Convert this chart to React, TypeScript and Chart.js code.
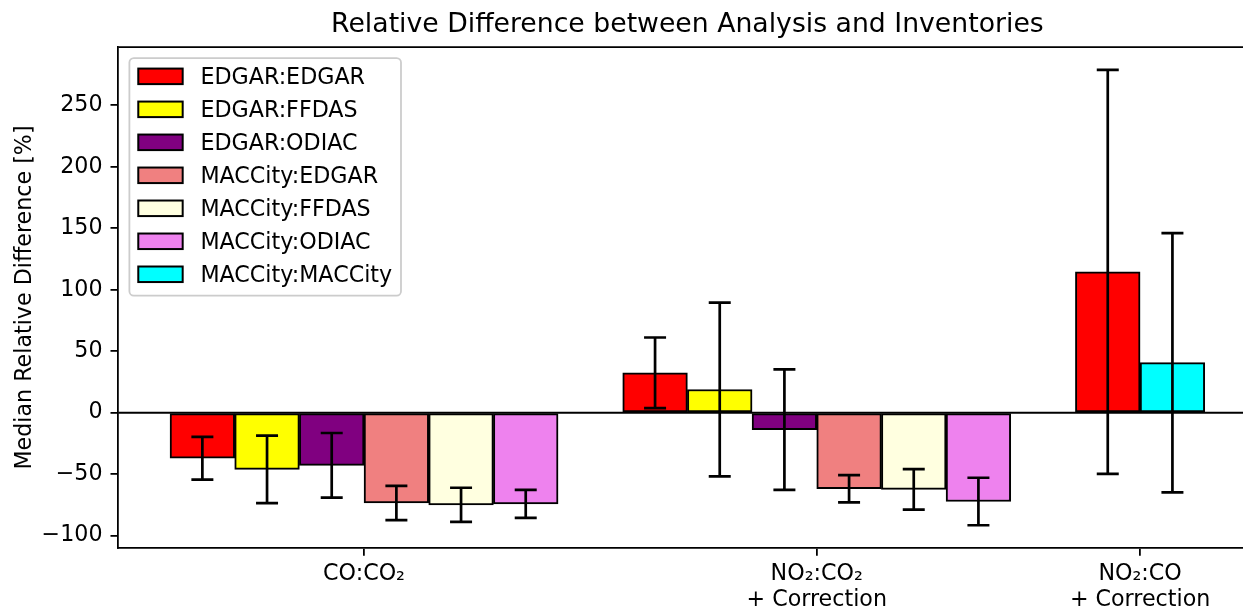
import React, { useEffect, useRef } from "react";
import { Chart, registerables } from "chart.js";

Chart.register(...registerables);

// ---------- data ----------
const groupLabels: string[][] = [
  ["CO:CO₂"],
  ["NO₂:CO₂", "+ Correction"],
  ["NO₂:CO", "+ Correction"],
];

const seriesNames = [
  "EDGAR:EDGAR",
  "EDGAR:FFDAS",
  "EDGAR:ODIAC",
  "MACCity:EDGAR",
  "MACCity:FFDAS",
  "MACCity:ODIAC",
  "MACCity:MACCity",
];

const seriesColors = ["#ff0000", "#ffff00", "#800080", "#f08080", "#ffffe0", "#ee82ee", "#00ffff"];

// median relative difference per group (null = not present)
const edgarEdgar = [-37.0, 32.5, 114.6];
const edgarFfdas = [-46.1, 18.9, null];
const edgarOdiac = [-42.8, -13.8, null];
const maccityEdgar = [-73.4, -61.8, null];
const maccityFfdas = [-74.9, -62.3, null];
const maccityOdiac = [-74.2, -72.2, null];
const maccityMaccity = [null, null, 40.7];

// symmetric error (spread) per group
const edgarEdgarErr = [17.4, 28.7, 164.3];
const edgarFfdasErr = [27.5, 70.6, null];
const edgarOdiacErr = [26.3, 49.0, null];
const maccityEdgarErr = [13.9, 11.1, null];
const maccityFfdasErr = [13.9, 16.5, null];
const maccityOdiacErr = [11.4, 19.3, null];
const maccityMaccityErr = [null, null, 105.4];

const yTicks = [-100, -50, 0, 50, 100, 150, 200, 250];

const chartTitle = "Relative Difference between Analysis and Inventories";
const yAxisTitle = "Median Relative Difference [%]";

const seriesValues: (number | null)[][] = [
  edgarEdgar, edgarFfdas, edgarOdiac, maccityEdgar, maccityFfdas, maccityOdiac, maccityMaccity,
];
const seriesErrors: (number | null)[][] = [
  edgarEdgarErr, edgarFfdasErr, edgarOdiacErr, maccityEdgarErr, maccityFfdasErr, maccityOdiacErr, maccityMaccityErr,
];

// ---------- layout of bars (slots) ----------
const slotOf: (number | null)[][] = seriesValues.map(() => groupLabels.map(() => null));
const groupCenters: number[] = [];
let slotCounter = 0;
groupLabels.forEach((_, g) => {
  const start = slotCounter;
  seriesValues.forEach((vals, s) => {
    if (vals[g] != null) {
      slotOf[s][g] = slotCounter;
      slotCounter++;
    }
  });
  groupCenters.push((start + slotCounter - 1) / 2);
  slotCounter++; // gap between groups
});
const lastSlot = slotCounter - 2;
const xLo = -0.5, xHi = lastSlot + 0.5;
const xMargin = (xHi - xLo) * 0.05;
const xMin = xLo - xMargin, xMax = xHi + xMargin;

let dMin = 0, dMax = 0;
seriesValues.forEach((vals, s) => vals.forEach((v, g) => {
  if (v == null) return;
  const e = seriesErrors[s][g] || 0;
  dMin = Math.min(dMin, v - e, v);
  dMax = Math.max(dMax, v + e, v);
}));
const yMargin = (dMax - dMin) * 0.05;
const yMin = dMin - yMargin, yMax = dMax + yMargin;

const FONT = "'DejaVu Sans', sans-serif";
const FS = 22.2;

const fmtTick = (v: number) => (v < 0 ? "\u2212" + Math.abs(v) : String(v));

const decorPlugin = {
  id: "decor",
  afterDatasetsDraw(chart: any) {
    const { ctx, chartArea: ca } = chart;
    const ys = chart.scales.y;
    ctx.save();
    // zero line
    const y0 = ys.getPixelForValue(0);
    ctx.strokeStyle = "#000";
    ctx.lineWidth = 2.2;
    ctx.beginPath();
    ctx.moveTo(ca.left, y0);
    ctx.lineTo(ca.right, y0);
    ctx.stroke();
    // error bars
    ctx.lineWidth = 2.7;
    chart.data.datasets.forEach((ds: any, di: number) => {
      const meta = chart.getDatasetMeta(di);
      meta.data.forEach((el: any, i: number) => {
        const d = ds.data[i];
        if (!d || d.err == null) return;
        const x = el.x;
        const yt = ys.getPixelForValue(d.y + d.err);
        const yb = ys.getPixelForValue(d.y - d.err);
        const cap = 11;
        ctx.beginPath();
        ctx.moveTo(x, yt); ctx.lineTo(x, yb);
        ctx.moveTo(x - cap, yt); ctx.lineTo(x + cap, yt);
        ctx.moveTo(x - cap, yb); ctx.lineTo(x + cap, yb);
        ctx.stroke();
      });
    });
    ctx.restore();
  },
  afterDraw(chart: any) {
    const { ctx, chartArea: ca } = chart;
    ctx.save();
    // top + right spines
    ctx.strokeStyle = "#000";
    ctx.lineWidth = 1.78;
    ctx.beginPath();
    ctx.moveTo(ca.left, ca.top);
    ctx.lineTo(ca.right, ca.top);
    ctx.lineTo(ca.right, ca.bottom);
    ctx.stroke();

    // legend
    const ds = chart.data.datasets;
    ctx.font = `${FS}px ${FONT}`;
    const maxW = Math.max(...ds.map((d: any) => ctx.measureText(d.label).width));
    const pad = 0.4 * FS, hl = 2 * FS, hh = 0.7 * FS, tp = 0.8 * FS, ls = 0.5 * FS, axp = 0.5 * FS;
    const rowH = 0.986 * FS;
    const x0 = ca.left + axp, y0 = ca.top + axp;
    const w = 2 * pad + hl + tp + maxW;
    const h = 2 * pad + ds.length * rowH + (ds.length - 1) * ls;
    ctx.beginPath();
    (ctx as any).roundRect(x0, y0, w, h, 4.4);
    ctx.fillStyle = "rgba(255,255,255,0.8)";
    ctx.fill();
    ctx.strokeStyle = "#cccccc";
    ctx.lineWidth = 1.8;
    ctx.stroke();
    ds.forEach((d: any, i: number) => {
      const cy = y0 + pad + 0.42 * FS + i * (rowH + ls);
      ctx.fillStyle = d.backgroundColor;
      ctx.fillRect(x0 + pad, cy - hh / 2, hl, hh);
      ctx.strokeStyle = "#000";
      ctx.lineWidth = 2;
      ctx.strokeRect(x0 + pad, cy - hh / 2, hl, hh);
      ctx.fillStyle = "#000";
      ctx.textAlign = "left";
      ctx.textBaseline = "alphabetic";
      ctx.fillText(d.label, x0 + pad + hl + tp, cy + 0.365 * FS);
    });
    ctx.restore();
  },
};

export default function App() {
  const ref = useRef<HTMLCanvasElement>(null);
  useEffect(() => {
    if (!ref.current) return;
    Chart.defaults.font.family = FONT;
    const datasets = seriesNames.map((name, s) => ({
      label: name,
      data: groupLabels
        .map((_, g) =>
          slotOf[s][g] == null ? null : { x: slotOf[s][g], y: seriesValues[s][g], err: seriesErrors[s][g] }
        )
        .filter((p) => p != null),
      backgroundColor: seriesColors[s],
      borderColor: "#000",
      borderWidth: 2,
      borderSkipped: false,
      grouped: false,
      barPercentage: 1,
      categoryPercentage: 1,
    }));
    const chart = new Chart(ref.current, {
      type: "bar",
      data: { datasets } as any,
      options: {
        animation: false,
        responsive: false,
        devicePixelRatio: 1,
        events: [],
        layout: { padding: { left: 0, top: 0, right: 13.5, bottom: 0 } },
        plugins: {
          legend: { display: false },
          tooltip: { enabled: false },
          title: {
            display: true,
            text: chartTitle,
            fullSize: false,
            color: "#000",
            font: { family: FONT, size: 26.7, weight: "normal", lineHeight: 1.2 },
            padding: { top: 9.4, bottom: 5.6 },
          },
        },
        scales: {
          x: {
            type: "linear",
            min: xMin,
            max: xMax,
            offset: false,
            afterBuildTicks: (s: any) => {
              s.ticks = groupCenters.map((v) => ({ value: v }));
            },
            afterFit: (s: any) => {
              s.height = 62;
            },
            ticks: {
              autoSkip: false,
              maxRotation: 0,
              minRotation: 0,
              callback: (_v: any, i: number) => groupLabels[i],
              font: { family: FONT, size: FS, lineHeight: 1.16 },
              color: "#000",
              padding: 6,
            },
            grid: { offset: false, drawOnChartArea: false, drawTicks: true, tickLength: 7.8, color: "#000", lineWidth: 1.78 },
            border: { display: true, color: "#000", width: 1.78 },
          },
          y: {
            type: "linear",
            min: yMin,
            max: yMax,
            afterBuildTicks: (s: any) => {
              s.ticks = yTicks.map((v) => ({ value: v }));
            },
            afterFit: (s: any) => {
              s.width = 118.3;
            },
            ticks: {
              callback: (v: any) => fmtTick(Number(v)),
              font: { family: FONT, size: FS },
              color: "#000",
              padding: 8,
            },
            grid: { drawOnChartArea: false, drawTicks: true, tickLength: 7.8, color: "#000", lineWidth: 1.78 },
            border: { display: true, color: "#000", width: 1.78 },
            title: {
              display: true,
              text: yAxisTitle,
              color: "#000",
              font: { family: FONT, size: FS, lineHeight: 1.2 },
              padding: { top: 11.6, bottom: 0 },
            },
          },
        },
      } as any,
      plugins: [decorPlugin],
    });
    return () => chart.destroy();
  }, []);
  return (
    <div style={{ position: "absolute", left: 0, top: 0, width: 1243, height: 610, overflow: "hidden", background: "#fff" }}>
      <canvas ref={ref} width={1270} height={610} style={{ width: 1270, height: 610, display: "block" }} />
    </div>
  );
}
